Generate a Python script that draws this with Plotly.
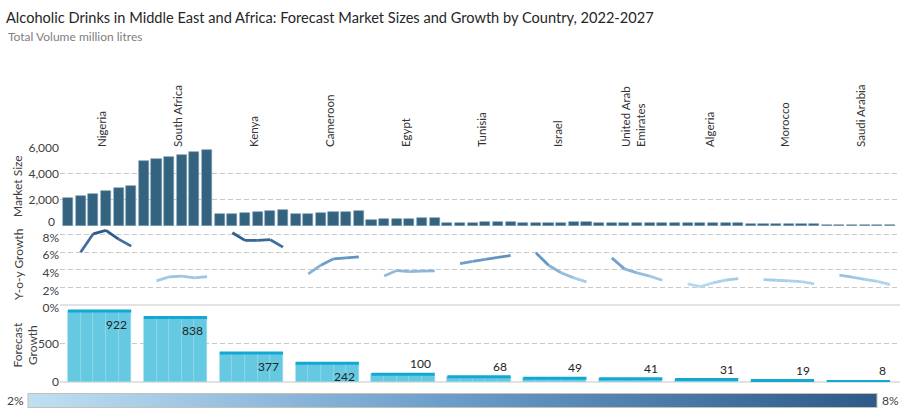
import plotly.graph_objects as go
from plotly.colors import sample_colorscale

# ---------------- data ----------------
countries = ["Nigeria", "South Africa", "Kenya", "Cameroon", "Egypt", "Tunisia",
             "Israel", "United Arab<br>Emirates", "Algeria", "Morocco", "Saudi Arabia"]
years = [2022, 2023, 2024, 2025, 2026, 2027]

# Market size (million litres) per year, one value per country
ms_2022 = [2164, 5010, 881, 908, 494, 236, 229, 197, 229, 133, 52]
ms_2023 = [2294, 5147, 954, 940, 510, 247, 243, 208, 235, 137, 54]
ms_2024 = [2480, 5312, 1024, 983, 530, 259, 254, 216, 239, 141, 56]
ms_2025 = [2691, 5486, 1099, 1034, 551, 273, 263, 224, 245, 145, 57]
ms_2026 = [2893, 5656, 1180, 1090, 572, 288, 271, 231, 252, 149, 59]
ms_2027 = [3086, 5848, 1258, 1150, 594, 304, 278, 238, 260, 152, 60]

# Year-on-year growth (%) per year, one value per country
yoy_2023 = [6.0, 2.74, 8.23, 3.54, 3.31, 4.72, 5.94, 5.37, 2.40, 2.90, 3.39]
yoy_2024 = [8.1, 3.20, 7.35, 4.53, 3.92, 4.97, 4.53, 4.11, 2.10, 2.82, 3.16]
yoy_2025 = [8.5, 3.28, 7.35, 5.26, 3.81, 5.20, 3.66, 3.66, 2.51, 2.74, 2.93]
yoy_2026 = [7.5, 3.09, 7.43, 5.37, 3.85, 5.42, 3.09, 3.28, 2.82, 2.67, 2.70]
yoy_2027 = [6.7, 3.24, 6.59, 5.49, 3.89, 5.64, 2.63, 2.82, 3.01, 2.40, 2.32]

# Absolute growth 2022-2027 (million litres)
forecast_growth = [922, 838, 377, 242, 100, 68, 49, 41, 31, 19, 8]

yoy_ticks = [0, 2, 4, 6, 8]
yoy_ticktext = ["0%", "2%", "4%", "6%", "8%"]
ms_ticks = [0, 2000, 4000, 6000]
ms_ticktext = ["", "2,000", "4,000", "6,000"]   # "0" drawn separately, nudged up
fg_ticks = [0, 500]
scale_min, scale_max = 2, 8

# ---------------- styling ----------------
FONT = "Lato"
TXT = "#404040"
GRID = "#c9c9c9"
BAR_DARK = "#33637f"
FG_FILL = "#66c9e2"
FG_LINE = "#12a8d2"
cscale = [[0, "#bfe0f3"], [0.5, "#6b9cca"], [1, "#2d5a88"]]

W, H = 907, 420
ML, MR, MT, MB = 60, 7, 148, 38
PW, PH = W - ML - MR, H - MT - MB


def px_x(p):
    return (p - ML) / PW


def px_y(p):
    return (H - MB - p) / PH


market = [ms_2022, ms_2023, ms_2024, ms_2025, ms_2026, ms_2027]
yoy = [yoy_2023, yoy_2024, yoy_2025, yoy_2026, yoy_2027]
ny = len(years)

fig = go.Figure()

# Market size bars
mx, my = [], []
for i, c in enumerate(countries):
    for j in range(ny):
        mx.append(i * ny + j)
        my.append(market[j][i])
fig.add_trace(go.Bar(x=mx, y=my, width=0.8, marker=dict(color=BAR_DARK, line=dict(color="#7a9bb0", width=0.6)),
                     xaxis="x", yaxis="y", showlegend=False, hoverinfo="y"))

# Y-o-y growth line segments coloured by value
for i, c in enumerate(countries):
    for j in range(len(yoy) - 1):
        v0, v1 = yoy[j][i], yoy[j + 1][i]
        t = ((v0 + v1) / 2 - scale_min) / (scale_max - scale_min)
        t = min(max(t, 0), 1)
        col = sample_colorscale(cscale, [t])[0]
        fig.add_trace(go.Scatter(x=[i * ny + j + 1, i * ny + j + 2], y=[v0, v1], mode="lines",
                                 line=dict(color=col, width=2.8), xaxis="x2", yaxis="y2",
                                 showlegend=False, hoverinfo="y"))

# Forecast growth bars (5 segments each) + top line
fx, fy = [], []
lx, ly = [], []
for i, c in enumerate(countries):
    for j in range(ny - 1):
        fx.append(i * ny + j + 0.5)
        fy.append(forecast_growth[i])
    lx += [i * ny, i * ny + ny - 1, None]
    ly += [forecast_growth[i], forecast_growth[i], None]
fig.add_trace(go.Bar(x=fx, y=fy, width=1, marker=dict(color=FG_FILL, line=dict(color="#8ed6ea", width=0.6)),
                     xaxis="x3", yaxis="y3", showlegend=False, hoverinfo="y"))
fig.add_trace(go.Scatter(x=lx, y=ly, mode="lines", line=dict(color=FG_LINE, width=3),
                         xaxis="x3", yaxis="y3", showlegend=False, hoverinfo="skip"))

# Dummy trace carrying the colour bar
fig.add_trace(go.Scatter(x=[None], y=[None], mode="markers", xaxis="x2", yaxis="y2", showlegend=False,
                         marker=dict(color=[scale_min, scale_max], cmin=scale_min, cmax=scale_max,
                                     colorscale=cscale, showscale=True,
                                     colorbar=dict(orientation="h", x=px_x(452.5), xanchor="center",
                                                   y=px_y(400.5), yanchor="middle", lenmode="pixels",
                                                   len=849, thickness=14, xpad=0, ypad=0,
                                                   outlinecolor="#c8c0b0", outlinewidth=1,
                                                   showticklabels=False, ticks=""))))

annotations = []
# data labels for forecast growth
fg_range = 1000
for i, v in enumerate(forecast_growth):
    inside = v * (PH * 0.329) / fg_range > 16
    annotations.append(dict(x=i * ny + ny - 1, y=v, xref="x3", yref="y3", text=str(v), showarrow=False,
                            xanchor="right", yanchor="top" if inside else "bottom",
                            xshift=-2, yshift=-4 if inside else 1,
                            font=dict(family=FONT, size=12, color="#222222")))

# market-size zero label, sitting just above the baseline as in the source
annotations.append(dict(x=px_x(57), y=ms_ticks[0], xref="paper", yref="y", text=str(ms_ticks[0]),
                        showarrow=False, xanchor="right", yanchor="middle", yshift=4,
                        font=dict(family=FONT, size=12, color=TXT)))

# axis titles
for txt, xp, yp in [("Market Size", 17, 186), ("Y-o-y Growth", 18, 265), ("Forecast<br>Growth", 24.5, 345)]:
    annotations.append(dict(x=px_x(xp), y=px_y(yp), xref="paper", yref="paper", text=txt, showarrow=False,
                            textangle=-90, xanchor="center", yanchor="middle",
                            font=dict(family=FONT, size=12, color=TXT)))

# colour bar end labels
annotations.append(dict(x=px_x(26), y=px_y(400.5), xref="paper", yref="paper", text=f"{scale_min}%",
                        showarrow=False, xanchor="right", yanchor="middle",
                        font=dict(family=FONT, size=12, color=TXT)))
annotations.append(dict(x=px_x(880), y=px_y(400.5), xref="paper", yref="paper", text=f"{scale_max}%",
                        showarrow=False, xanchor="left", yanchor="middle",
                        font=dict(family=FONT, size=12, color=TXT)))

# subtitle
annotations.append(dict(x=px_x(6), y=px_y(37), xref="paper", yref="paper", text="Total Volume million litres",
                        showarrow=False, xanchor="left", yanchor="middle",
                        font=dict(family=FONT, size=12, color="#808080")))

xr = [-0.63, 65.79]
grid_common = dict(showgrid=True, gridcolor=GRID, griddash="5px,3px", gridwidth=1,
                   ticks="", tickfont=dict(family=FONT, size=12, color=TXT), showline=False)

fig.update_layout(
    width=W, height=H,
    margin=dict(l=ML, r=MR, t=MT, b=MB, autoexpand=False),
    paper_bgcolor="white", plot_bgcolor="white",
    bargap=0,
    title=dict(text="Alcoholic Drinks in Middle East and Africa: Forecast Market Sizes and Growth by Country, 2022-2027",
               x=6 / W, xanchor="left", xref="container", y=1 - 18 / H, yanchor="middle", yref="container",
               font=dict(family=FONT, size=14.6, color="#262626")),
    xaxis=dict(range=xr, side="top", tickmode="array", tickvals=[i * ny + 2.75 for i in range(len(countries))],
               ticktext=countries, tickangle=-90, ticks="", showgrid=False, zeroline=False,
               tickfont=dict(family=FONT, size=11.5, color="#333333"), anchor="y"),
    xaxis2=dict(range=xr, matches="x", showticklabels=False, showgrid=False, zeroline=False, anchor="y2"),
    xaxis3=dict(range=xr, matches="x", showticklabels=False, showgrid=False, zeroline=False, anchor="y3"),
    yaxis=dict(domain=[0.667, 1], range=[0, 6000], tickmode="array", tickvals=ms_ticks, ticktext=ms_ticktext,
               zeroline=False, **grid_common),
    yaxis2=dict(domain=[0.329, 0.667], range=[0, 9], tickmode="array", tickvals=yoy_ticks, ticktext=yoy_ticktext,
                zeroline=True, zerolinecolor="#e3e3e3", zerolinewidth=2, ticklabelshift=3, **grid_common),
    yaxis3=dict(domain=[0, 0.329], range=[0, fg_range], tickmode="array", tickvals=fg_ticks,
                zeroline=True, zerolinecolor="#e3e3e3", zerolinewidth=2, **grid_common),
    annotations=annotations,
    hovermode="closest",
)

fig.write_html("out.html", config={"displayModeBar": False},
               post_script="document.body.style.margin='0';document.body.style.padding='0';")
